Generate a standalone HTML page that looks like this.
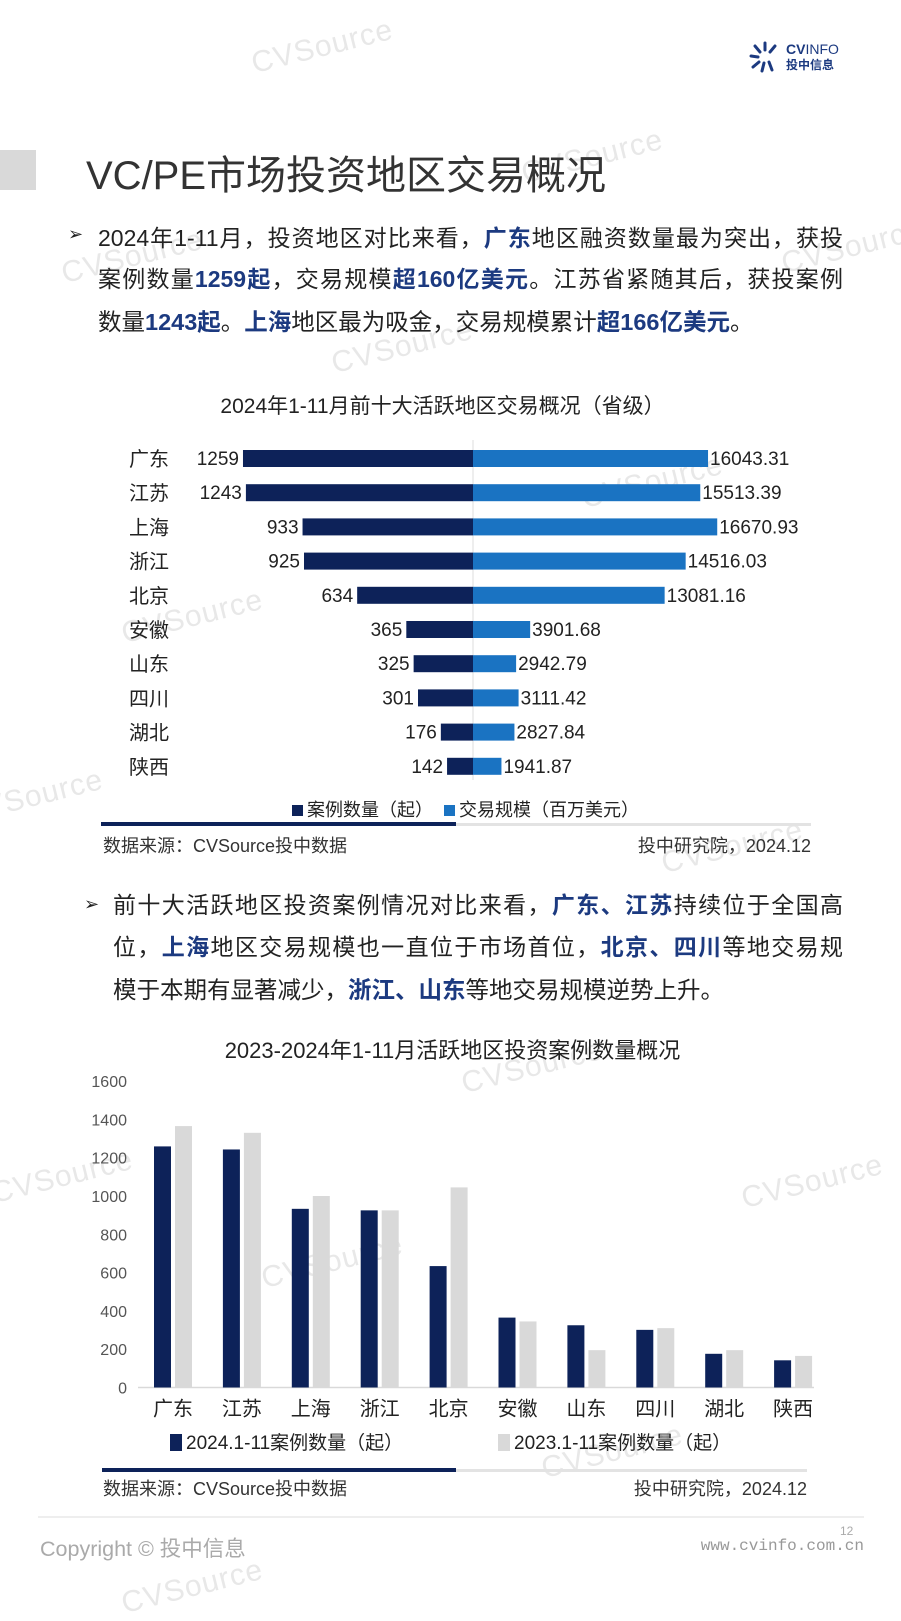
<!DOCTYPE html>
<html><head><meta charset="utf-8">
<style>
*{margin:0;padding:0;box-sizing:border-box}
body{width:901px;height:1600px;background:#fff;position:relative;overflow:hidden;font-family:"Liberation Sans","Noto Sans CJK SC",sans-serif;color:#222}
.a{position:absolute;white-space:nowrap}
.b{color:#1c3a80;font-weight:bold}
.line{position:absolute;left:98px;width:745px;font-size:23px;line-height:30px;text-align:justify;text-align-last:justify;white-space:nowrap}
.wm{position:absolute;color:#e8e8e8;font-size:30px;font-family:"Liberation Sans",sans-serif;transform:rotate(-14deg);letter-spacing:1px}
</style></head><body>
<div class="wm" style="left:250px;top:30px">CVSource</div>
<div class="wm" style="left:520px;top:140px">CVSource</div>
<div class="wm" style="left:60px;top:240px">CVSource</div>
<div class="wm" style="left:780px;top:230px">CVSource</div>
<div class="wm" style="left:330px;top:330px">CVSource</div>
<div class="wm" style="left:580px;top:465px">CVSource</div>
<div class="wm" style="left:120px;top:600px">CVSource</div>
<div class="wm" style="left:-40px;top:780px">CVSource</div>
<div class="wm" style="left:660px;top:830px">CVSource</div>
<div class="wm" style="left:460px;top:1050px">CVSource</div>
<div class="wm" style="left:-10px;top:1160px">CVSource</div>
<div class="wm" style="left:740px;top:1165px">CVSource</div>
<div class="wm" style="left:260px;top:1245px">CVSource</div>
<div class="wm" style="left:540px;top:1435px">CVSource</div>
<div class="wm" style="left:120px;top:1570px">CVSource</div>

<!-- logo -->
<svg class="a" style="left:748px;top:40px" width="34" height="34" viewBox="0 0 34 34">
<g stroke="#1c3a80" stroke-width="3" stroke-linecap="round">
<line x1="17" y1="10" x2="17" y2="3"/><line x1="12" y1="12" x2="7" y2="6"/><line x1="22" y1="12" x2="27" y2="6"/>
<line x1="10" y1="17" x2="3" y2="16"/><line x1="11" y1="22" x2="5" y2="27"/><line x1="16" y1="23" x2="14" y2="31"/><line x1="21" y1="22" x2="24" y2="30"/>
</g></svg>
<div class="a" style="left:786px;top:41px;font-size:14px;color:#1c3a80;font-weight:bold">CV<span style="font-weight:normal">INFO</span></div>
<div class="a" style="left:786px;top:56px;font-size:12px;color:#1c3a80;font-weight:bold">投中信息</div>

<div class="a" style="left:0;top:150px;width:36px;height:40px;background:#d9d9d9"></div>
<div class="a" style="left:86px;top:151px;font-size:40px;color:#333;line-height:50px">VC/PE市场投资地区交易概况</div>

<div class="a" style="left:68px;top:224px;font-size:18px">➢</div>
<div class="line" style="top:223px">2024年1-11月，投资地区对比来看，<span class="b">广东</span>地区融资数量最为突出，获投</div>
<div class="line" style="top:264px">案例数量<span class="b">1259起</span>，交易规模<span class="b">超160亿美元</span>。江苏省紧随其后，获投案例</div>
<div class="a" style="left:98px;top:307px;font-size:23.5px;line-height:30px">数量<span class="b">1243起</span>。<span class="b">上海</span>地区最为吸金，交易规模累计<span class="b">超166亿美元</span>。</div>

<!-- chart 1 -->
<div class="a" style="left:200px;top:390px;width:485px;text-align:center;font-size:21px">2024年1-11月前十大活跃地区交易概况（省级）</div>
<svg class="a" style="left:0;top:430px" width="901" height="360" viewBox="0 430 901 360" font-family="Liberation Sans, Noto Sans CJK SC, sans-serif" font-size="19" fill="#222">
<line x1="473" y1="440" x2="473" y2="780" stroke="#ddd" stroke-width="1"/>
<g id="rows"></g>
</svg>
<div class="a" style="left:292px;top:796px;font-size:18px"><span style="display:inline-block;width:11px;height:11px;background:#0d2259;margin-right:4px"></span>案例数量（起） <span style="display:inline-block;width:11px;height:11px;background:#1a73c2;margin:0 4px 0 6px"></span>交易规模（百万美元）</div>
<div class="a" style="left:101px;top:822px;width:355px;height:4px;background:#0d2259"></div>
<div class="a" style="left:456px;top:823px;width:355px;height:3px;background:#e3e3e3"></div>
<div class="a" style="left:103px;top:832px;font-size:18px;color:#333">数据来源：CVSource投中数据</div>
<div class="a" style="left:611px;top:832px;width:200px;text-align:right;font-size:18px;color:#333">投中研究院，2024.12</div>

<div class="a" style="left:84px;top:894px;font-size:18px">➢</div>
<div class="line" style="top:890px;left:113px;width:730px">前十大活跃地区投资案例情况对比来看，<span class="b">广东、江苏</span>持续位于全国高</div>
<div class="line" style="top:932px;left:113px;width:730px">位，<span class="b">上海</span>地区交易规模也一直位于市场首位，<span class="b">北京、四川</span>等地交易规</div>
<div class="a" style="left:113px;top:975px;font-size:23.5px;line-height:30px">模于本期有显著减少，<span class="b">浙江、山东</span>等地交易规模逆势上升。</div>

<div class="a" style="left:180px;top:1033px;width:545px;text-align:center;font-size:22px">2023-2024年1-11月活跃地区投资案例数量概况</div>
<svg class="a" style="left:0;top:1060px" width="901" height="370" viewBox="0 1060 901 370" font-family="Liberation Sans, Noto Sans CJK SC, sans-serif" fill="#333">
<g id="c2"></g>
</svg>
<div class="a" style="left:170px;top:1428px;font-size:19px"><span style="display:inline-block;width:12px;height:17px;background:#0d2259;margin-right:4px;vertical-align:-2px"></span>2024.1-11案例数量（起）</div>
<div class="a" style="left:498px;top:1428px;font-size:19px"><span style="display:inline-block;width:12px;height:17px;background:#d9d9d9;margin-right:4px;vertical-align:-2px"></span>2023.1-11案例数量（起）</div>
<div class="a" style="left:102px;top:1468px;width:354px;height:4px;background:#0d2259"></div>
<div class="a" style="left:456px;top:1469px;width:351px;height:3px;background:#e3e3e3"></div>
<div class="a" style="left:103px;top:1475px;font-size:18px;color:#333">数据来源：CVSource投中数据</div>
<div class="a" style="left:607px;top:1475px;width:200px;text-align:right;font-size:18px;color:#333">投中研究院，2024.12</div>

<div class="a" style="left:38px;top:1516px;width:826px;height:2px;background:#eee"></div>
<div class="a" style="left:40px;top:1532px;font-size:21.5px;color:#aaa">Copyright © 投中信息</div>
<div class="a" style="left:840px;top:1524px;font-size:12px;color:#aaa">12</div>
<div class="a" style="left:664px;top:1537px;width:200px;text-align:right;font-size:16px;color:#999;font-family:'Liberation Mono',monospace">www.cvinfo.com.cn</div>

<script>
var names=["广东","江苏","上海","浙江","北京","安徽","山东","四川","湖北","陕西"];
var n24=[1259,1243,933,925,634,365,325,301,176,142];
var amt=["16043.31","15513.39","16670.93","14516.03","13081.16","3901.68","2942.79","3111.42","2827.84","1941.87"];
var n23=[1365,1330,1000,925,1045,345,195,310,195,165];
var s="",C=473;
for(var i=0;i<10;i++){
 var y=450+i*34.2, L=n24[i]*0.1827, R=parseFloat(amt[i])*0.01465;
 s+='<rect x="'+(C-L)+'" y="'+y+'" width="'+L+'" height="17" fill="#0d2259"/>';
 s+='<rect x="'+C+'" y="'+y+'" width="'+R+'" height="17" fill="#1a73c2"/>';
 s+='<text x="'+(C-L-4)+'" y="'+(y+15)+'" text-anchor="end">'+n24[i]+'</text>';
 s+='<text x="'+(C+R+2)+'" y="'+(y+15)+'">'+amt[i]+'</text>';
 s+='<text x="129" y="'+(y+16)+'" font-size="20">'+names[i]+'</text>';
}
document.getElementById("rows").innerHTML=s;
var t="",B=1387.5,k=0.1915;
for(var v=0;v<=1600;v+=200){t+='<text x="127" y="'+(B-v*k+6)+'" text-anchor="end" font-size="16" fill="#555">'+v+'</text>';}
t+='<line x1="138" y1="'+B+'" x2="814" y2="'+B+'" stroke="#d9d9d9" stroke-width="1.5"/>';
for(var i=0;i<10;i++){
 var x=154+i*68.9;
 t+='<rect x="'+x+'" y="'+(B-n24[i]*k)+'" width="17" height="'+(n24[i]*k)+'" fill="#0d2259"/>';
 t+='<rect x="'+(x+21)+'" y="'+(B-n23[i]*k)+'" width="17" height="'+(n23[i]*k)+'" fill="#d9d9d9"/>';
 t+='<text x="'+(x+19)+'" y="'+(B+28)+'" text-anchor="middle" font-size="20" fill="#222">'+names[i]+'</text>';
}
document.getElementById("c2").innerHTML=t;
</script>
</body></html>
